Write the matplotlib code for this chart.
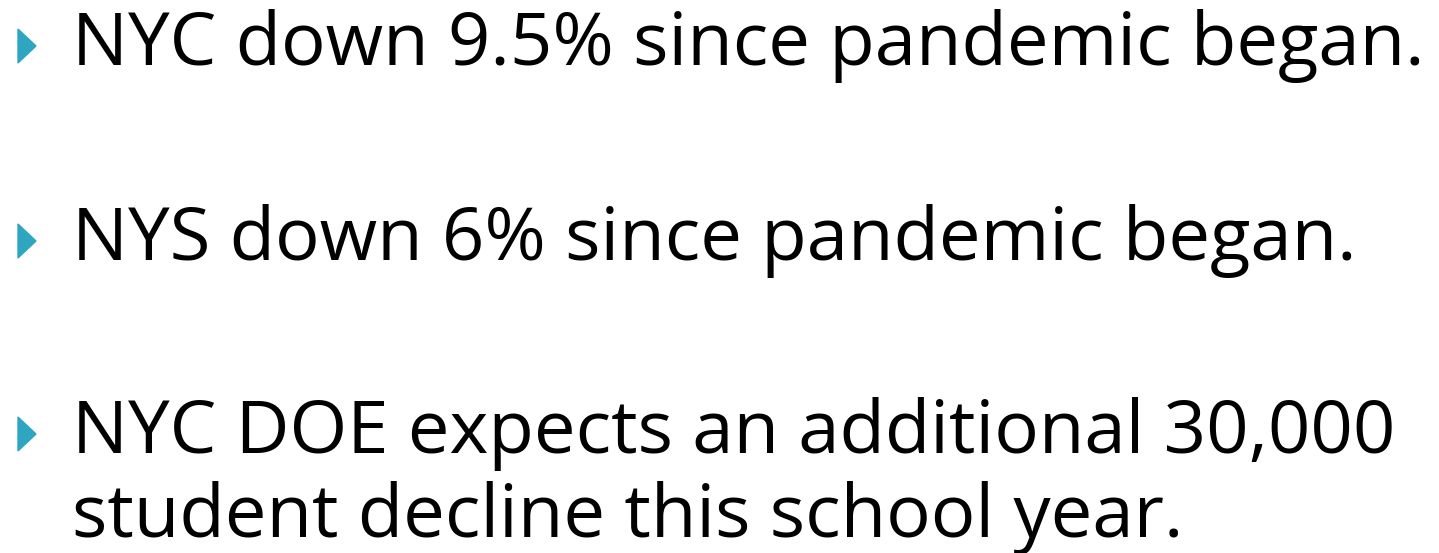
import matplotlib
matplotlib.use("Agg")
import matplotlib.pyplot as plt
from matplotlib.patches import Polygon

# slide text
bullets = [
    "NYC down 9.5% since pandemic began.",
    "NYS down 6% since pandemic began.",
    "NYC DOE expects an additional 30,000\nstudent decline this school year.",
]
baselines = [65, 260, 453]
bullet_color = "#2ea6c2"

fig = plt.figure(figsize=(14.39, 5.53), dpi=100)
ax = fig.add_axes([0, 0, 1, 1])
ax.set_xlim(0, 1439)
ax.set_ylim(553, 0)
ax.axis("off")

for txt, y in zip(bullets, baselines):
    ax.add_patch(Polygon([(18, y - 36), (36, y - 19), (18, y - 2)],
                         closed=True, color=bullet_color))
    lines = txt.split("\n")
    for i, ln in enumerate(lines):
        ax.text(72, y + i * 84, ln, fontsize=53.5, family="Open Sans",
                va="baseline", ha="left", color="black")

fig.savefig("out.png", dpi=100)
